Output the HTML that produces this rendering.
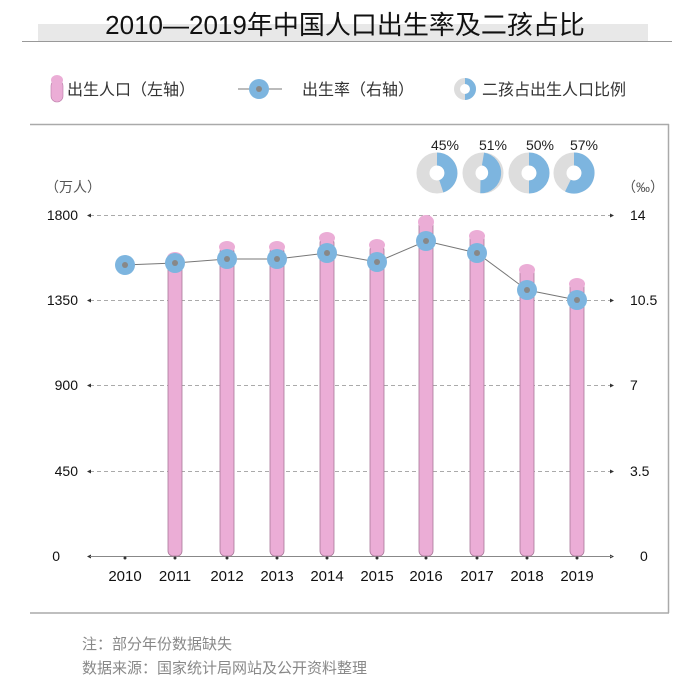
<!DOCTYPE html>
<html><head><meta charset="utf-8"><style>
body{margin:0;background:#fff;}
svg{display:block;font-family:"Liberation Sans","Noto Sans CJK SC",sans-serif;}
</style></head><body>
<svg width="690" height="679" viewBox="0 0 690 679">
<rect x="38" y="24" width="610" height="17" fill="#e8e8e8"/>
<text x="345" y="34" font-size="26" text-anchor="middle" fill="#111" font-family="'Liberation Sans','Noto Sans CJK SC',sans-serif">2010—2019年中国人口出生率及二孩占比</text>
<line x1="22" y1="41.5" x2="672" y2="41.5" stroke="#999" stroke-width="1"/>
<!-- legend -->
<rect x="51" y="80" width="12" height="22" rx="6" fill="#ebadd6" stroke="#b87aa6" stroke-width="0.6"/>
<ellipse cx="57" cy="80" rx="6" ry="5" fill="#ebadd6"/>
<text x="67" y="95" font-size="16" fill="#333">出生人口（左轴）</text>
<line x1="238" y1="89" x2="282" y2="89" stroke="#777" stroke-width="1"/>
<circle cx="259" cy="89" r="10" fill="#7db5df"/><circle cx="259" cy="89" r="3" fill="#888"/>
<text x="302" y="95" font-size="16" fill="#333">出生率（右轴）</text>
<circle cx="465" cy="89" r="8" fill="none" stroke="#ddd" stroke-width="6"/>
<path d="M465 81 A8 8 0 0 1 465 97" fill="none" stroke="#7db5df" stroke-width="6"/>
<text x="482" y="95" font-size="16" fill="#333">二孩占出生人口比例</text>
<!-- frame -->
<line x1="30" y1="124.5" x2="669" y2="124.5" stroke="#aaa" stroke-width="1.5"/>
<line x1="668.5" y1="124" x2="668.5" y2="613" stroke="#aaa" stroke-width="1.5"/>
<line x1="30" y1="613" x2="669" y2="613" stroke="#aaa" stroke-width="1.5"/>
<!-- axis labels -->
<text x="45" y="192" font-size="14" fill="#555">（万人）</text>
<text x="622" y="192" font-size="14" fill="#555">（‰）</text>
<g font-size="14" fill="#111">
<text x="78" y="220" text-anchor="end">1800</text>
<text x="78" y="305" text-anchor="end">1350</text>
<text x="78" y="390" text-anchor="end">900</text>
<text x="78" y="476" text-anchor="end">450</text>
<text x="60" y="561" text-anchor="end">0</text>
<text x="630" y="220">14</text>
<text x="630" y="305">10.5</text>
<text x="630" y="390">7</text>
<text x="630" y="476">3.5</text>
<text x="640" y="561">0</text>
</g>
<g stroke="#aaa" stroke-dasharray="4,3" stroke-width="1">
<line x1="90" y1="215.5" x2="610" y2="215.5"/>
<line x1="90" y1="300.5" x2="610" y2="300.5"/>
<line x1="90" y1="385.5" x2="610" y2="385.5"/>
<line x1="90" y1="471.5" x2="610" y2="471.5"/>
</g>
<g fill="#333">
<path d="M87 215.5 l4 -2 v4z"/><path d="M87 300.5 l4 -2 v4z"/><path d="M87 385.5 l4 -2 v4z"/><path d="M87 471.5 l4 -2 v4z"/><path d="M87 556.5 l4 -2 v4z"/>
<path d="M614 215.5 l-4 -2 v4z"/><path d="M614 300.5 l-4 -2 v4z"/><path d="M614 385.5 l-4 -2 v4z"/><path d="M614 471.5 l-4 -2 v4z"/><path d="M614 556.5 l-4 -2 v4z"/>
</g>
<line x1="90" y1="556.5" x2="612" y2="556.5" stroke="#888" stroke-width="1"/>
<!-- bars -->
<g fill="#ebadd6" stroke="#a87898" stroke-width="0.8">
<rect x="168" y="258" width="14" height="298" rx="5"/>
<rect x="220" y="247" width="14" height="309" rx="5"/>
<rect x="270" y="247" width="14" height="309" rx="5"/>
<rect x="320" y="238" width="14" height="318" rx="5"/>
<rect x="370" y="245" width="14" height="311" rx="5"/>
<rect x="419" y="220" width="14" height="336" rx="5"/>
<rect x="470" y="234" width="14" height="322" rx="5"/>
<rect x="520" y="268" width="14" height="288" rx="5"/>
<rect x="570" y="282" width="14" height="274" rx="5"/>
</g>
<g fill="#ebadd6">
<ellipse cx="175" cy="258" rx="8" ry="6"/><ellipse cx="227" cy="247" rx="8" ry="6"/><ellipse cx="277" cy="247" rx="8" ry="6"/>
<ellipse cx="327" cy="238" rx="8" ry="6"/><ellipse cx="377" cy="245" rx="8" ry="6"/><ellipse cx="426" cy="222" rx="8" ry="7"/>
<ellipse cx="477" cy="236" rx="8" ry="6"/><ellipse cx="527" cy="270" rx="8" ry="6"/><ellipse cx="577" cy="284" rx="8" ry="6"/>
</g>
<g fill="#333"><circle cx="125" cy="558" r="1.5"/><circle cx="175" cy="558" r="1.5"/><circle cx="227" cy="558" r="1.5"/><circle cx="277" cy="558" r="1.5"/><circle cx="327" cy="558" r="1.5"/><circle cx="377" cy="558" r="1.5"/><circle cx="426" cy="558" r="1.5"/><circle cx="477" cy="558" r="1.5"/><circle cx="527" cy="558" r="1.5"/><circle cx="577" cy="558" r="1.5"/></g>
<!-- line -->
<polyline points="125,265 175,263 227,259 277,259 327,253 377,262 426,241 477,253 527,290 577,300" fill="none" stroke="#777" stroke-width="1"/>
<g fill="#7db5df">
<circle cx="125" cy="265" r="10"/><circle cx="175" cy="263" r="10"/><circle cx="227" cy="259" r="10"/><circle cx="277" cy="259" r="10"/><circle cx="327" cy="253" r="10"/><circle cx="377" cy="262" r="10"/><circle cx="426" cy="241" r="10"/><circle cx="477" cy="253" r="10"/><circle cx="527" cy="290" r="10"/><circle cx="577" cy="300" r="10"/>
</g>
<g fill="#888">
<circle cx="125" cy="265" r="3"/><circle cx="175" cy="263" r="3"/><circle cx="227" cy="259" r="3"/><circle cx="277" cy="259" r="3"/><circle cx="327" cy="253" r="3"/><circle cx="377" cy="262" r="3"/><circle cx="426" cy="241" r="3"/><circle cx="477" cy="253" r="3"/><circle cx="527" cy="290" r="3"/><circle cx="577" cy="300" r="3"/>
</g>
<!-- years -->
<g font-size="15" fill="#111" text-anchor="middle">
<text x="125" y="581">2010</text><text x="175" y="581">2011</text><text x="227" y="581">2012</text><text x="277" y="581">2013</text><text x="327" y="581">2014</text><text x="377" y="581">2015</text><text x="426" y="581">2016</text><text x="477" y="581">2017</text><text x="527" y="581">2018</text><text x="577" y="581">2019</text>
</g>
<!-- donuts -->
<g fill="none" stroke-width="13">
<circle cx="437" cy="173" r="14" stroke="#ddd"/>
<circle cx="483" cy="173" r="14" stroke="#ddd"/>
<circle cx="529" cy="173" r="14" stroke="#ddd"/>
<circle cx="574" cy="173" r="14" stroke="#ddd"/>
<path d="M437 159 A14 14 0 0 1 441.3 186.3" stroke="#7db5df"/>
<path d="M483 159 A14 14 0 0 1 480.4 186.8" stroke="#7db5df"/>
<path d="M529 159 A14 14 0 0 1 529 187" stroke="#7db5df"/>
<path d="M574 159 A14 14 0 1 1 567.9 185.6" stroke="#7db5df"/>
</g>
<g font-size="14" fill="#222" text-anchor="middle">
<text x="445" y="150">45%</text><text x="493" y="150">51%</text><text x="540" y="150">50%</text><text x="584" y="150">57%</text>
</g>
<!-- footer -->
<text x="82" y="649" font-size="15" fill="#888">注：部分年份数据缺失</text>
<text x="82" y="673" font-size="15" fill="#888">数据来源：国家统计局网站及公开资料整理</text>
</svg>
</body></html>
